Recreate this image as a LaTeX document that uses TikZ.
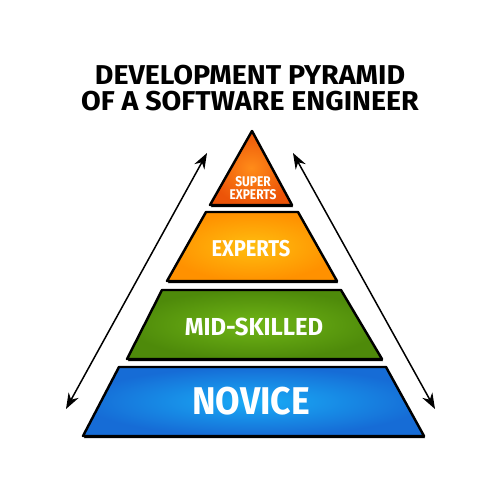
\documentclass[tikz,border=0pt]{standalone}
\usepackage{fontspec}
\setmainfont{Fira Sans}
\usetikzlibrary{arrows.meta}
\definecolor{suO}{RGB}{236,84,8}
\definecolor{suI}{RGB}{255,140,25}
\definecolor{exO}{RGB}{255,145,0}
\definecolor{exI}{RGB}{255,190,15}
\definecolor{miO}{RGB}{78,138,10}
\definecolor{miI}{RGB}{112,182,22}
\definecolor{noO}{RGB}{22,108,214}
\definecolor{noI}{RGB}{25,172,246}
\tikzset{
  titletext/.style={font=\bfseries\fontsize{15.5}{17}\selectfont, text=black, inner sep=0pt, xscale=1.05},
  layer/.style={draw=black, line width=1.4pt, line join=round},
  shadowfill/.style={fill=black},
  label/.style={text=white, font=\bfseries, inner sep=0pt, align=center},
  arr/.style={line width=0.85pt, {Stealth[length=9pt,width=6.5pt]}-{Stealth[length=9pt,width=6.5pt]}}
}
\begin{document}
\begin{tikzpicture}[x=0.02cm,y=-0.02cm]
\useasboundingbox (0,0) rectangle (500,500);
\fill[white] (0,0) rectangle (500,500);
% title
\node[titletext] (t1) at (250,75) {DEVELOPMENT PYRAMID};
\node[titletext] (t2) at (250,101) {OF A SOFTWARE ENGINEER};
% shadows
\fill[shadowfill] (253,132) -- (293,207) -- (211,207) -- cycle;
\fill[shadowfill] (207,213) -- (299,213) -- (338,283) -- (168,283) -- cycle;
\fill[shadowfill] (163,291) -- (342,291) -- (383,361) -- (128,361) -- cycle;
\fill[shadowfill] (120,368) -- (387,368) -- (425,438) -- (84,438) -- cycle;
% layers
\shadedraw[layer, inner color=suI, outer color=suO] (252,131) -- (292,205) -- (210,205) -- cycle;
\shadedraw[layer, inner color=exI, outer color=exO] (206,212) -- (298,212) -- (337,281) -- (167,281) -- cycle;
\shadedraw[layer, inner color=miI, outer color=miO] (162,290) -- (341,290) -- (382,359) -- (127,359) -- cycle;
\shadedraw[layer, inner color=noI, outer color=noO] (119,367) -- (386,367) -- (424,436) -- (83,436) -- cycle;
% labels
\node[label, font=\bfseries\fontsize{8}{8}\selectfont, xscale=0.85] (su) at (253,188) {SUPER\\[-0.5pt]EXPERTS};
\node[label, font=\bfseries\fontsize{13}{14}\selectfont, xscale=0.88] (ex) at (251,249) {EXPERTS};
\node[label, font=\bfseries\fontsize{14}{15}\selectfont, xscale=0.97] (mi) at (254,327) {MID-SKILLED};
\node[label, font=\bfseries\fontsize{22}{23}\selectfont, xscale=0.92] (no) at (251,401) {NOVICE};
% arrows
\coordinate (la) at (207,153);
\coordinate (lb) at (66,409);
\coordinate (ra) at (293,153);
\coordinate (rb) at (435,409);
\draw[arr] (la) -- (lb);
\draw[arr] (ra) -- (rb);
\end{tikzpicture}
\end{document}
